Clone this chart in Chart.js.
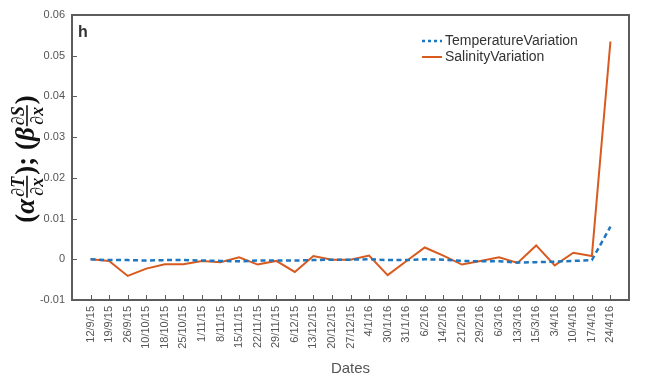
<!DOCTYPE html>
<html>
<head>
<meta charset="utf-8">
<script src="https://cdn.jsdelivr.net/npm/chart.js@4/dist/chart.umd.min.js"></script>
<style>
  html, body { margin: 0; padding: 0; background: #fff; }
  #wrap { width: 646px; height: 381px; position: relative; }
</style>
</head>
<body>
<div id="wrap"><canvas id="c" width="646" height="381"></canvas></div>
<script>
// Sampling dates (d/m/yy)
const dates = ['12/9/15','19/9/15','26/9/15','10/10/15','18/10/15','25/10/15','1/11/15','8/11/15',
  '15/11/15','22/11/15','29/11/15','6/12/15','13/12/15','20/12/15','27/12/15','4/1/16','30/1/16',
  '31/1/16','6/2/16','14/2/16','21/2/16','29/2/16','6/3/16','13/3/16','15/3/16','3/4/16','10/4/16',
  '17/4/16','24/4/16'];

// alpha * dT/dx
const temperatureVariation = [0, -0.0002, -0.0002, -0.0003, -0.0002, -0.0002, -0.0003, -0.0004,
  -0.0005, -0.0003, -0.0003, -0.0003, -0.0002, -0.0001, -0.0001, 0, -0.0002, -0.0002, 0, -0.0001,
  -0.0004, -0.0005, -0.0005, -0.0008, -0.0007, -0.0006, -0.0004, -0.0002, 0.008];

// beta * dS/dx
const salinityVariation = [0, -0.0004, -0.0041, -0.0023, -0.0012, -0.0012, -0.0004, -0.0007,
  0.0005, -0.0013, -0.0004, -0.0031, 0.0008, -0.0001, -0.0001, 0.0009, -0.0039, -0.0005, 0.0029,
  0.0009, -0.0013, -0.0004, 0.0005, -0.0009, 0.0034, -0.0015, 0.0016, 0.0008, 0.0535];

const yTicks = [-0.01, 0, 0.01, 0.02, 0.03, 0.04, 0.05, 0.06];

const BLUE = '#1f77c0';
const ORANGE = '#d95a1f';
const AXIS = '#5c5c5c';
const SANS = '"Liberation Sans", Arial, Helvetica, sans-serif';
const SERIF = '"Liberation Serif", "DejaVu Serif", "Times New Roman", serif';

const toPoints = arr => arr.map((v, i) => ({ x: i, y: v }));

// Box frame, inward tick marks, panel letter, legend and axis titles
const decorations = {
  id: 'decorations',
  afterDatasetsDraw(chart) {
    const { ctx, chartArea: a, scales } = chart;
    ctx.save();
    // inward tick marks
    ctx.strokeStyle = AXIS;
    ctx.lineWidth = 1;
    yTicks.forEach(v => {
      const y = Math.round(scales.y.getPixelForValue(v)) + 0.5;
      ctx.beginPath(); ctx.moveTo(a.left, y); ctx.lineTo(a.left + 5, y); ctx.stroke();
    });
    dates.forEach((d, i) => {
      const x = Math.round(scales.x.getPixelForValue(i)) + 0.5;
      ctx.beginPath(); ctx.moveTo(x, a.bottom); ctx.lineTo(x, a.bottom - 5); ctx.stroke();
    });
    // frame
    ctx.lineWidth = 2;
    ctx.strokeStyle = AXIS;
    ctx.strokeRect(a.left, a.top, a.right - a.left, a.bottom - a.top);

    // panel letter
    ctx.fillStyle = '#333';
    ctx.font = 'bold 16px ' + SANS;
    ctx.textBaseline = 'alphabetic';
    ctx.textAlign = 'left';
    ctx.fillText('h', a.left + 6, a.top + 22);

    // legend
    const ds = chart.data.datasets;
    const lx = 422, rows = [41, 57];
    ds.forEach((d, k) => {
      const y = rows[k];
      ctx.beginPath();
      ctx.strokeStyle = d.borderColor;
      ctx.lineWidth = d.borderWidth;
      ctx.setLineDash(d.borderDash ? [3, 3] : []);
      ctx.moveTo(lx, y); ctx.lineTo(lx + 20, y);
      ctx.stroke();
      ctx.setLineDash([]);
      ctx.fillStyle = '#333';
      ctx.font = '14px ' + SANS;
      ctx.textBaseline = 'middle';
      ctx.fillText(d.label, lx + 23, y);
    });

    // x axis title
    ctx.fillStyle = '#555';
    ctx.font = '15px ' + SANS;
    ctx.textAlign = 'center';
    ctx.textBaseline = 'middle';
    ctx.fillText('Dates', (a.left + a.right) / 2, 369);

    // y axis title: (α ∂T/∂x); (β ∂S/∂x)
    drawYTitle(ctx, 27, 159);
    ctx.restore();
  }
};

function drawYTitle(ctx, cx, cy) {
  const big = 'bold 27px ' + SERIF;
  const bigIt = 'italic bold 27px ' + SERIF;
  const small = 'italic bold 18px ' + SERIF;
  const parts = [
    { t: '(', f: big }, { t: 'α', f: bigIt }, { frac: ['∂T', '∂x'] }, { t: ')', f: big },
    { t: '; ', f: big },
    { t: '(', f: big }, { t: 'β', f: bigIt }, { frac: ['∂S', '∂x'] }, { t: ')', f: big }
  ];
  ctx.save();
  ctx.translate(cx, cy);
  ctx.rotate(-Math.PI / 2);
  const widths = parts.map(p => {
    if (p.frac) {
      ctx.font = small;
      return Math.max(ctx.measureText(p.frac[0]).width, ctx.measureText(p.frac[1]).width) + 4;
    }
    ctx.font = p.f;
    return ctx.measureText(p.t).width;
  });
  const total = widths.reduce((s, w) => s + w, 0);
  let x = -total / 2;
  ctx.fillStyle = '#111';
  ctx.strokeStyle = '#111';
  parts.forEach((p, i) => {
    const w = widths[i];
    if (p.frac) {
      ctx.font = small;
      ctx.textAlign = 'center';
      ctx.textBaseline = 'alphabetic';
      ctx.fillText(p.frac[0], x + w / 2, -3);
      ctx.textBaseline = 'top';
      ctx.fillText(p.frac[1], x + w / 2, 2);
      ctx.lineWidth = 1.6;
      ctx.beginPath(); ctx.moveTo(x + 1, 0); ctx.lineTo(x + w - 1, 0); ctx.stroke();
    } else {
      ctx.font = p.f;
      ctx.textAlign = 'left';
      ctx.textBaseline = 'middle';
      ctx.fillText(p.t, x, 0);
    }
    x += w;
  });
  ctx.restore();
}

new Chart(document.getElementById('c'), {
  type: 'line',
  data: {
    datasets: [
      {
        label: 'TemperatureVariation',
        data: toPoints(temperatureVariation),
        borderColor: BLUE,
        borderWidth: 2.5,
        borderDash: [5, 3.5],
        pointRadius: 0,
        tension: 0,
        fill: false
      },
      {
        label: 'SalinityVariation',
        data: toPoints(salinityVariation),
        borderColor: ORANGE,
        borderWidth: 2,
        pointRadius: 0,
        tension: 0,
        fill: false
      }
    ]
  },
  options: {
    responsive: false,
    animation: false,
    events: [],
    layout: { padding: { top: 15, right: 17, left: 0, bottom: 0 } },
    plugins: { legend: { display: false }, tooltip: { enabled: false } },
    scales: {
      x: {
        type: 'linear',
        min: -1,
        max: 29,
        afterBuildTicks: s => { s.ticks = dates.map((d, i) => ({ value: i })); },
        afterFit: s => { s.height = 81; },
        grid: { display: false, drawTicks: false },
        border: { display: false },
        ticks: {
          autoSkip: false,
          maxRotation: 90,
          minRotation: 90,
          padding: 6,
          color: '#555',
          font: { family: SANS, size: 11 },
          callback: v => dates[v] ?? ''
        }
      },
      y: {
        min: -0.01,
        max: 0.06,
        afterBuildTicks: s => { s.ticks = yTicks.map(v => ({ value: v })); },
        afterFit: s => { s.width = 72; },
        grid: { display: false, drawTicks: false },
        border: { display: false },
        ticks: {
          padding: 7,
          color: '#555',
          font: { family: SANS, size: 11 },
          callback: v => Math.abs(v) < 1e-9 ? '0' : String(+v.toFixed(2))
        }
      }
    }
  },
  plugins: [decorations]
});
</script>
</body>
</html>
